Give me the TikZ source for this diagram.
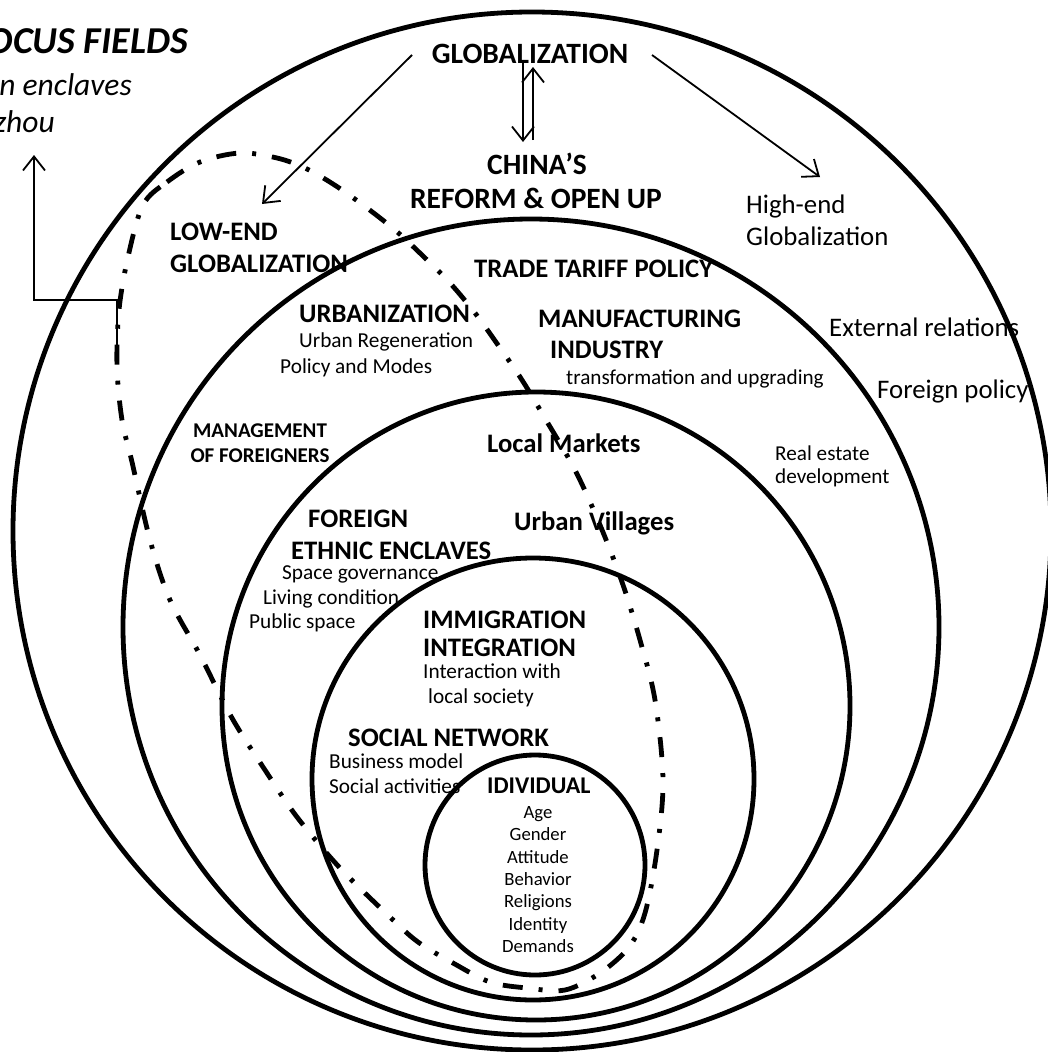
\documentclass[tikz,border=0pt]{standalone}
\usepackage{fontspec}
\setmainfont{Carlito}
\usetikzlibrary{arrows.meta}
\begin{document}
\begin{tikzpicture}[x=1pt,y=-1pt,
  ring/.style={line width=4.8pt},
  focusline/.style={line width=4.8pt, line cap=butt, dash pattern=on 20pt off 16pt on 4pt off 16pt},
  conn/.style={line width=1.8pt, -{Straight Barb[length=14pt,width=22pt]}},
  lbl/.style={inner sep=0pt, anchor=base west},
  lblc/.style={inner sep=0pt, anchor=base},
  hd/.style={font=\bfseries\fontsize{29.5}{34}\selectfont},
  hb/.style={font=\bfseries\fontsize{26.7}{31}\selectfont},
  hs/.style={font=\bfseries\fontsize{21}{24}\selectfont},
  hi/.style={font=\bfseries\fontsize{24}{28}\selectfont},
  tl/.style={font=\fontsize{26.8}{31}\selectfont},
  tx/.style={font=\fontsize{21.3}{25}\selectfont},
  ts/.style={font=\fontsize{21.2}{25}\selectfont},
  tc/.style={font=\fontsize{18.7}{22}\selectfont},
  ttl/.style={font=\bfseries\itshape\fontsize{38}{44}\selectfont},
  sub/.style={font=\itshape\fontsize{31.5}{37}\selectfont}
]
\useasboundingbox (0,0) rectangle (1048,1052);
\fill[white] (0,0) rectangle (1048,1052);

% nested spheres of influence
\draw[ring] (532,531) circle[radius=519pt];
\draw[ring] (531,627) circle[radius=408pt];
\draw[ring] (536,706) circle[radius=314pt];
\draw[ring] (533,779) circle[radius=221pt];
\draw[ring] (535,865) circle[radius=110pt];

% focus fields outline
\draw[focusline] plot[smooth cycle, tension=0.55] coordinates {
  (143,205) (167,182) (200,162) (240,153) (277,158) (305,168) (333,184)
  (363,205) (395,230) (423,256) (450,283) (475,313) (498,345) (522,380)
  (546,420) (575,470) (600,525) (622,582) (640,640) (655,700) (663,780)
  (657,850) (645,913) (629,947) (600,973) (565,990) (527,988) (490,982)
  (453,963) (418,942) (390,917) (340,868) (297,817) (265,770) (232,718)
  (200,655) (170,600) (150,540) (132,462) (122,420) (117,367) (119,310)
  (128,257)};

% title in the corner
\node[ttl, inner sep=0pt, anchor=base east] (focus1) at (188,53) {OCUS FIELDS};
\node[sub, inner sep=0pt, anchor=base east] (focus2) at (132,95) {n enclaves};
\node[sub, inner sep=0pt, anchor=base east] (focus3) at (55,132) {zhou};

% outer ring
\node[hd, lblc] (glob) at (530,63) {GLOBALIZATION};
\node[hd, lblc] (china1) at (537,174) {CHINA’S};
\node[hd, lblc] (china2) at (536,208) {REFORM \& OPEN UP};
\node[tl, lbl] (high1) at (746,213) {High-end};
\node[tl, lbl] (high2) at (746,245) {Globalization};
\node[hb, lbl] (low1) at (170,240) {LOW-END};
\node[hb, lbl] (low2) at (170,272) {GLOBALIZATION};
\node[tl, lbl] (ext) at (829,336) {External relations};
\node[tl, lbl] (forp) at (877,398) {Foreign policy};

% second ring
\node[hb, lbl] (trade) at (474,277) {TRADE TARIFF POLICY};
\node[hb, lbl] (urb1) at (299,322) {URBANIZATION};
\node[tx, lbl] (urb2) at (299,347) {Urban Regeneration};
\node[tx, lbl] (urb3) at (280,373) {Policy and Modes};
\node[hb, lbl] (manu1) at (538,327) {MANUFACTURING};
\node[hb, lbl] (manu2) at (550,358) {INDUSTRY};
\node[ts, lbl] (manu3) at (566,384) {transformation and upgrading};
\node[hs, lblc] (mgmt1) at (260,437) {MANAGEMENT};
\node[hs, lblc] (mgmt2) at (260,462) {OF FOREIGNERS};
\node[ts, lbl] (real1) at (775,460) {Real estate};
\node[ts, lbl] (real2) at (775,483) {development};

% third ring
\node[hb, lbl] (local) at (487,452) {Local Markets};
\node[hb, lbl] (vill) at (514,530) {Urban Villages};
\node[hb, lbl] (fe1) at (308,527) {FOREIGN};
\node[hb, lbl] (fe2) at (291,559) {ETHNIC ENCLAVES};
\node[tx, lbl] (sg) at (282,579) {Space governance};
\node[tx, lbl] (lc) at (263,604) {Living condition};
\node[tx, lbl] (ps) at (249,628) {Public space};

% fourth ring
\node[hb, lbl] (imm1) at (423,628) {IMMIGRATION};
\node[hb, lbl] (imm2) at (423,656) {INTEGRATION};
\node[tx, lbl] (int1) at (423,678) {Interaction with};
\node[tx, lbl] (int2) at (428,703) {local society};
\node[hb, lbl] (sn) at (348,746) {SOCIAL NETWORK};
\node[tx, lbl] (bm) at (329,768) {Business model};
\node[tx, lbl] (sa) at (329,793) {Social activities};

% core
\node[hi, lbl] (ind) at (487,793) {IDIVIDUAL};
\node[tc, lblc] (age) at (538,818) {Age};
\node[tc, lblc] (gen) at (538,840) {Gender};
\node[tc, lblc] (att) at (538,863) {Attitude};
\node[tc, lblc] (beh) at (538,885) {Behavior};
\node[tc, lblc] (rel) at (538,907) {Religions};
\node[tc, lblc] (idt) at (538,930) {Identity};
\node[tc, lblc] (dem) at (538,952) {Demands};

% arrow end points
\coordinate (gl) at (412,55);
\coordinate (lowtip) at (262,204);
\coordinate (gr) at (652,55);
\coordinate (hightip) at (820,177);
\coordinate (dn1) at (523,60);
\coordinate (dn2) at (523,142);
\coordinate (up1) at (533,140);
\coordinate (up2) at (533,67);
\coordinate (fstart) at (117,347);
\coordinate (knee) at (34,300);
\coordinate (ftip) at (34,155);

\draw[conn] (gl) -- (lowtip);
\draw[conn] (gr) -- (hightip);
\draw[conn] (dn1) -- (dn2);
\draw[conn] (up1) -- (up2);
\draw[conn] (fstart) |- (knee) -- (ftip);
\end{tikzpicture}
\end{document}
